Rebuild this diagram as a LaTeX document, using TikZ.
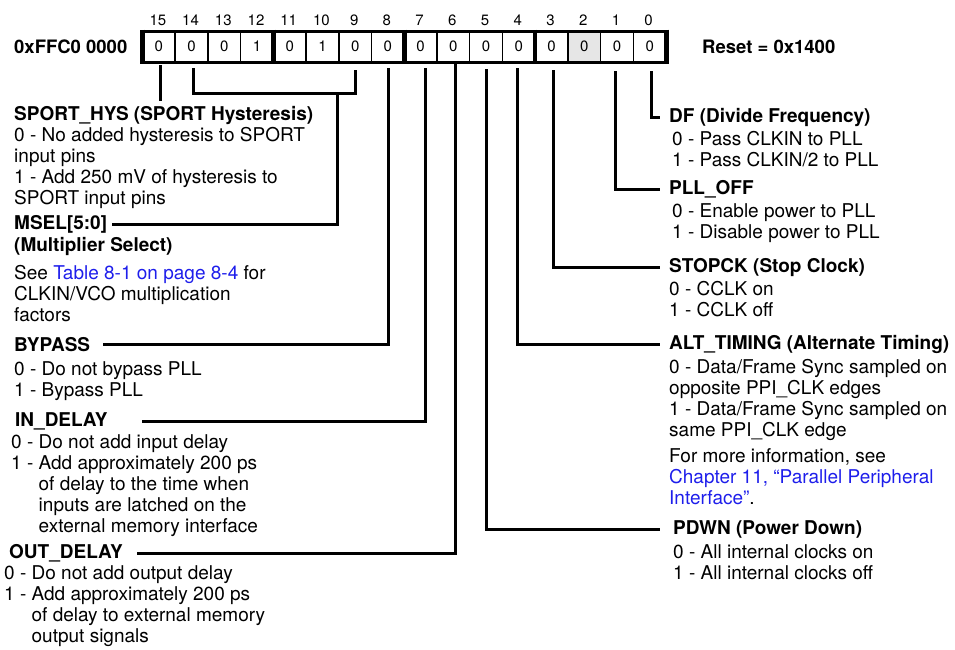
\documentclass[tikz,border=0pt]{standalone}
\usepackage{fontspec}
\setmainfont{TeX Gyre Heros}
\usetikzlibrary{calc}
\definecolor{linkblue}{RGB}{30,30,235}
\definecolor{cellgray}{RGB}{230,230,230}
\begin{document}
\begin{tikzpicture}[x=1pt,y=-1pt,
  txt/.style={inner sep=0pt, font=\fontsize{19}{21}\selectfont, align=left, anchor=north west},
  ttl/.style={inner sep=0pt, font=\fontsize{19}{21}\selectfont\bfseries, anchor=base west},
  hdr/.style={inner sep=0pt, font=\fontsize{18.5}{21}\selectfont\bfseries, anchor=west},
  conn/.style={line width=3pt},
  bitnum/.style={inner sep=0pt, font=\fontsize{15}{18}\selectfont},
  thin/.style={line width=1.5pt},
  thick/.style={line width=4.5pt},
  outer/.style={line width=5pt}]
\useasboundingbox (0,0) rectangle (955,649);

% register
\fill[cellgray] (567.9,31) rectangle (600.6,62);
\foreach \k in {1,2,3,5,6,7,9,10,11,13,14,15}
  \draw[thin] ({142.5+\k*32.72},31) -- ({142.5+\k*32.72},62);
\draw[line width=3pt] (140,31) -- (668.5,31) (140,62) -- (668.5,62);
\foreach \k in {4,8,12}
  \draw[thick] ({142.5+\k*32.72},29.5) -- ({142.5+\k*32.72},63.5);
\foreach \k in {0,16}
  \draw[outer] ({142.5+\k*32.72},29.5) -- ({142.5+\k*32.72},63.5);
\foreach \i/\v in {15/0,14/0,13/0,12/1,11/0,10/1,9/0,8/0,7/0,6/0,5/0,4/0,3/0,2/0,1/0,0/0} {
  \pgfmathsetmacro\xc{142.5+(15-\i+0.5)*32.72}
  \node[bitnum] (n\i) at (\xc-1,20) {\i};
  \node[bitnum] (b\i) at (\xc,46.5) {\v};
}
\node[hdr] (addr) at (14,46.5) {0xFFC0 0000};
\node[hdr] (reset) at (702,46.5) {Reset = 0x1400};

% left side labels
\node[ttl] (sport) at (14,120.8) {SPORT\_HYS (SPORT Hysteresis)};
\node[txt] (sportd) at (14,127) {\strut0 - No added hysteresis to SPORT\\input pins\\1 - Add 250 mV of hysteresis to\\SPORT input pins};
\node[ttl] (msel) at (14,229.8) {MSEL[5:0]};
\node[ttl] (mselb) at (14,251.8) {(Multiplier Select)};
\node[txt] (mseld) at (14,265) {\strut See \textcolor{linkblue}{Table 8-1 on page 8-4} for\\CLKIN/VCO multiplication\\factors};
\node[ttl] (bypass) at (14,351.8) {BYPASS};
\node[txt] (bypassd) at (14,361) {\strut0 - Do not bypass PLL\\1 - Bypass PLL};
\node[ttl] (indelay) at (15,426.8) {IN\_DELAY};
\node[txt] (indelayd) at (11,434) {\strut0 - Do not add input delay\\1 - Add approximately 200 ps\\\hphantom{1 - }of delay to the time when\\\hphantom{1 - }inputs are latched on the\\\hphantom{1 - }external memory interface};
\node[ttl] (outdelay) at (9,558.8) {OUT\_DELAY};
\node[txt] (outdelayd) at (4,565) {\strut0 - Do not add output delay\\1 - Add approximately 200 ps\\\hphantom{1 - }of delay to external memory\\\hphantom{1 - }output signals};

% right side labels
\node[ttl] (df) at (669,122.8) {DF (Divide Frequency)};
\node[txt] (dfd) at (672,131) {\strut0 - Pass CLKIN to PLL\\1 - Pass CLKIN/2 to PLL};
\node[ttl] (pll) at (669,194.8) {PLL\_OFF};
\node[txt] (plld) at (672,203) {\strut0 - Enable power to PLL\\1 - Disable power to PLL};
\node[ttl] (stop) at (669,272.8) {STOPCK (Stop Clock)};
\node[txt] (stopd) at (669,281) {\strut0 - CCLK on\\1 - CCLK off};
\node[ttl] (alt) at (669,349.8) {ALT\_TIMING (Alternate Timing)};
\node[txt] (altd) at (669,359) {\strut0 - Data/Frame Sync sampled on\\opposite PPI\_CLK edges\\1 - Data/Frame Sync sampled on\\same PPI\_CLK edge};
\node[txt] (altm) at (669,448) {\strut For more information, see\\\textcolor{linkblue}{Chapter 11, “Parallel Peripheral}\\\textcolor{linkblue}{Interface”}.};
\node[ttl] (pdwn) at (673,534.8) {PDWN (Power Down)};
\node[txt] (pdwnd) at (673,544) {\strut0 - All internal clocks on\\1 - All internal clocks off};

% connector anchor points under the register
\coordinate (c15) at (160.7,65);
\coordinate (c14) at (193,68);
\coordinate (c9) at (355.7,70);
\coordinate (c8) at (388,68);
\coordinate (c7) at (425,68);
\coordinate (c6) at (455,61);
\coordinate (c5) at (486.7,69);
\coordinate (c4) at (517,68);
\coordinate (c3) at (553,70);
\coordinate (c1) at (615,71);
\coordinate (c0) at (651.7,71);
\coordinate (mbr) at (355.7,93);
\coordinate (mj) at (337,93);
\coordinate (eM) at (112,0);
\coordinate (eB) at (103,0);
\coordinate (eI) at (142,0);
\coordinate (eO) at (137,0);
\coordinate (eR) at (660,0);

% connectors
\draw[conn] (c15) -- ($(c15 |- sport.north)+(0,-5)$);
\draw[conn] (c14) |- (mbr) -- (c9);
\draw[conn] (mj) |- (msel.east -| eM);
\draw[conn] (c8) |- (bypass.east -| eB);
\draw[conn] (c7) |- (indelay.east -| eI);
\draw[conn] (c6) |- (outdelay.east -| eO);
\draw[conn] (c5) |- (pdwn.west -| eR);
\draw[conn] (c4) |- (alt.west -| eR);
\draw[conn] (c3) |- (stop.west -| eR);
\draw[conn] (c1) |- (pll.west -| eR);
\draw[conn] (c0) |- (df.west -| eR);
\end{tikzpicture}
\end{document}
